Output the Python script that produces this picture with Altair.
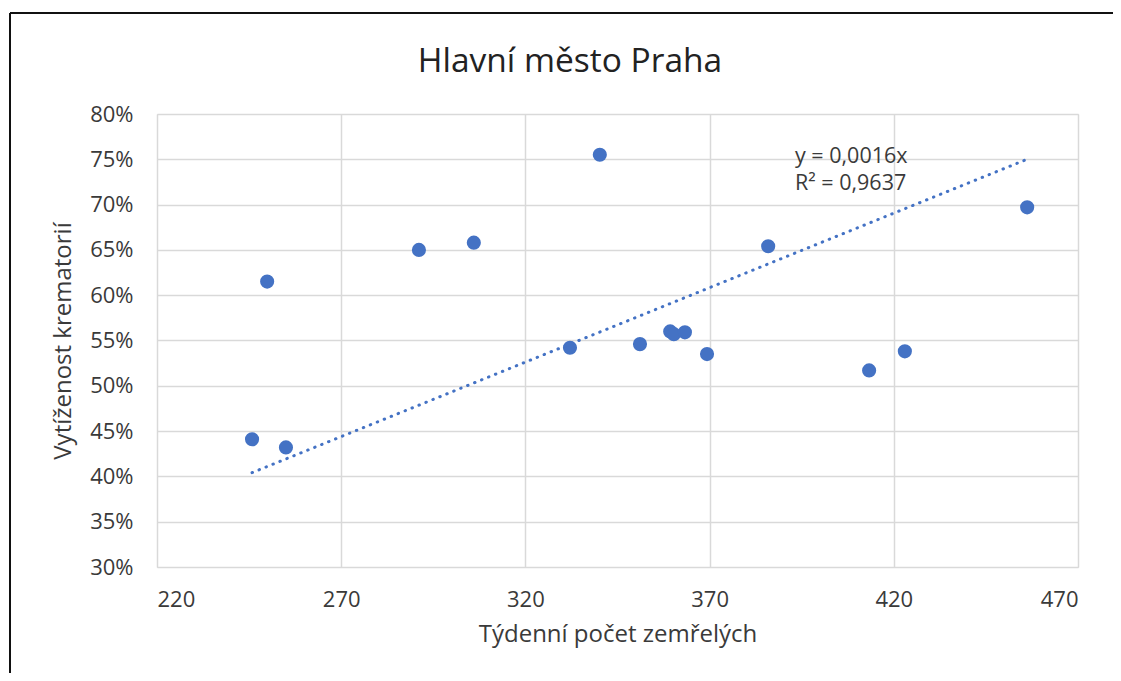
import altair as alt
import numpy as np
import pandas as pd

deaths = [245.8, 249.9, 255.0, 291.1, 306.0, 332.1, 340.2, 351.1, 359.3, 360.3,
          363.3, 369.3, 385.9, 413.3, 423.0, 456.2]
utilisation = [0.441, 0.615, 0.432, 0.650, 0.658, 0.542, 0.755, 0.546, 0.560, 0.557,
               0.559, 0.535, 0.654, 0.517, 0.538, 0.697]
x_ticks = [220, 270, 320, 370, 420, 470]
y_ticks = [0.30, 0.35, 0.40, 0.45, 0.50, 0.55, 0.60, 0.65, 0.70, 0.75, 0.80]
eq_lines = ["y = 0,0016x", "R² = 0,9637"]

FONT = "Open Sans"
TXT = "#3a3a3a"
BLUE = "#4472C4"

df = pd.DataFrame({"x": deaths, "y": utilisation})

# linear trendline through origin (least squares), spanning data range
xa = np.array(deaths)
ya = np.array(utilisation)
slope = float((xa * ya).sum() / (xa * xa).sum())
trend = pd.DataFrame({"x": [xa.min(), xa.max()], "y": [slope * xa.min(), slope * xa.max()]})

W, H = 921, 453
xs = alt.Scale(domain=[220, 470], nice=False, zero=False)
ys = alt.Scale(domain=[0.30, 0.80], nice=False, zero=False)

xaxis = alt.Axis(values=x_ticks, title="Týdenní počet zemřelých", grid=True,
                 gridColor="#d9d9d9", gridWidth=1.5, domain=False, ticks=False, tickSize=0,
                 labelPadding=22, labelFontSize=22, labelFont=FONT, labelColor=TXT,
                 titleFontSize=24, titleFont=FONT, titleColor=TXT, titleFontWeight="normal",
                 titlePadding=12)
yaxis = alt.Axis(values=y_ticks, format=".0%", title="Vytíženost krematorií", grid=True,
                 gridColor="#d9d9d9", gridWidth=1.5, domain=False, ticks=False, tickSize=0,
                 labelPadding=24, labelFontSize=22, labelFont=FONT, labelColor=TXT,
                 titleFontSize=24, titleFont=FONT, titleColor=TXT, titleFontWeight="normal",
                 titlePadding=14)

points = alt.Chart(df).mark_circle(size=200, color=BLUE, opacity=1).encode(
    x=alt.X("x:Q", scale=xs, axis=xaxis),
    y=alt.Y("y:Q", scale=ys, axis=yaxis),
)

trend_line = alt.Chart(trend).mark_line(color=BLUE, strokeWidth=3, strokeDash=[0.5, 7],
                                         strokeCap="round").encode(
    x=alt.X("x:Q", scale=xs),
    y=alt.Y("y:Q", scale=ys),
)

eq_layers = []
for line, ypix in zip(eq_lines, [157, 184]):
    eq_layers.append(
        alt.Chart(pd.DataFrame({"t": [line]})).mark_text(
            align="left", baseline="middle", font=FONT, fontSize=21.5, color=TXT
        ).encode(x=alt.value(795 - 157), y=alt.value(ypix - 114), text="t:N")
    )

title_df = pd.DataFrame({"t": ["Hlavní město Praha"]})
title = alt.Chart(title_df).mark_text(align="center", baseline="middle", font=FONT,
                                      fontSize=33.5, color="#222222").encode(
    x=alt.value(570 - 157), y=alt.value(62 - 114), text="t:N")

frame_df = pd.DataFrame({"a": [0]})
left_border = alt.Chart(frame_df).mark_rule(color="#111111", strokeWidth=2).encode(
    x=alt.value(10 - 157), y=alt.value(13 - 114), y2=alt.value(700))
top_border = alt.Chart(frame_df).mark_rule(color="#111111", strokeWidth=2).encode(
    y=alt.value(13 - 114), x=alt.value(10 - 157), x2=alt.value(1200))

chart = alt.layer(points, trend_line, *eq_layers, title, left_border, top_border).properties(
    width=W, height=H,
    autosize=alt.AutoSizeParams(type="none"),
    padding={"left": 149, "top": 106, "right": 35, "bottom": 106},
).configure_view(stroke=None).configure(background="white")

chart.save("out.html", embed_options={"renderer": "svg", "actions": False})
